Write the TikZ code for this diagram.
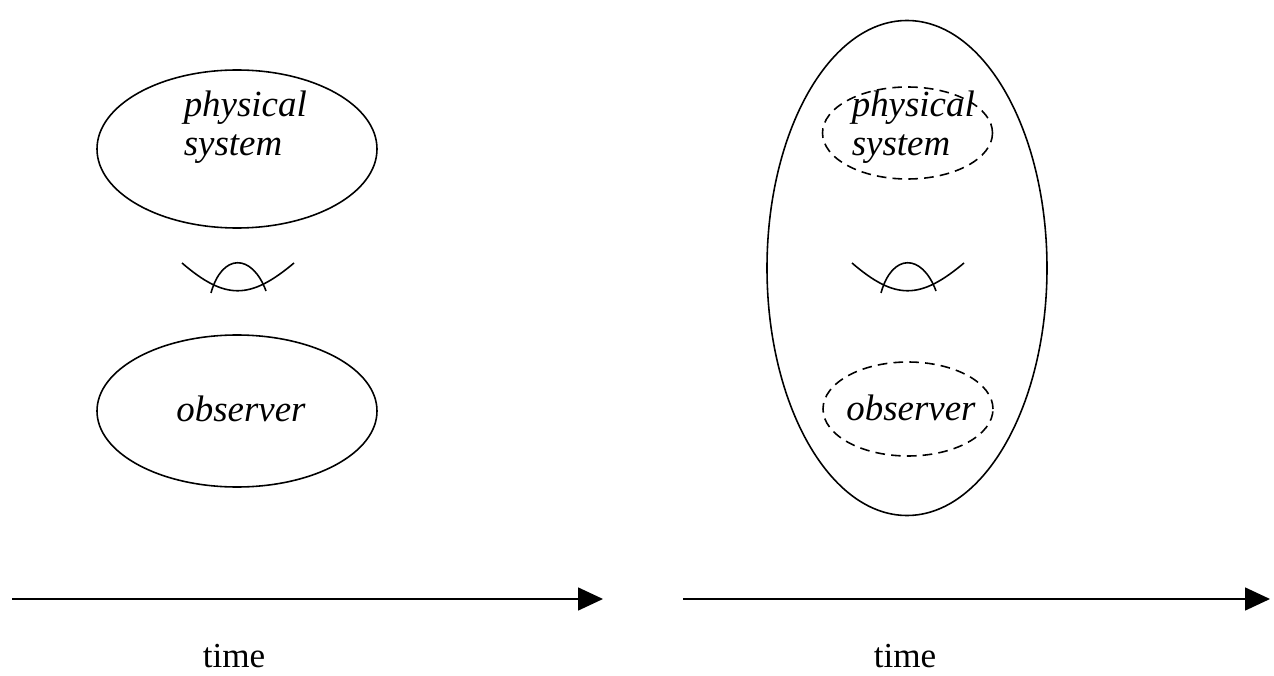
\documentclass[tikz,border=0pt]{standalone}
\usepackage{fontspec}
\setmainfont{Liberation Serif}
\usetikzlibrary{arrows.meta}

\tikzset{
  coupling/.pic={
    \draw (-1.1,0.28) .. controls (-0.24,-0.46) and (0.26,-0.46) .. (1.14,0.28);
    \draw (-0.52,-0.32) .. controls (-0.3,0.48) and (0.3,0.48) .. (0.58,-0.28);
  }
}

\begin{document}
\begin{tikzpicture}[line width=0.9pt,
    itlabel/.style={inner sep=0pt, font=\fontsize{21}{22.1}\selectfont\itshape},
    timelabel/.style={inner sep=0pt, anchor=base, font=\fontsize{20}{24}\selectfont},
    subsystem/.style={dash pattern=on 5.5pt off 3.5pt},
    timeline/.style={-{Triangle[length=0.5cm,width=0.46cm]}}]
    \useasboundingbox (0,0) rectangle (25.48,13.5);

    % Left: system and observer kept apart
    \draw (4.74,10.52) ellipse (2.8 and 1.58);
    \node[itlabel, anchor=west, align=left] (sysL) at (3.66,10.96) {physical\\system};
    \draw (4.74,5.28) ellipse (2.8 and 1.52);
    \node[itlabel, anchor=base] (obsL) at (4.82,5.08) {observer};
    \pic at (4.74,7.96) {coupling};

    % Right: both inside one larger system
    \draw (18.14,8.14) ellipse (2.8 and 4.95);
    \draw[subsystem] (18.15,10.84) ellipse (1.7 and 0.92);
    \node[itlabel, anchor=west, align=left] (sysR) at (17.02,10.96) {physical\\system};
    \draw[subsystem] (18.16,5.32) ellipse (1.7 and 0.94);
    \node[itlabel, anchor=base] (obsR) at (18.22,5.1) {observer};
    \pic at (18.14,7.96) {coupling};

    % Time axes
    \coordinate (tL0) at (0.24,1.52);
    \coordinate (tL1) at (12.06,1.52);
    \coordinate (tR0) at (13.66,1.52);
    \coordinate (tR1) at (25.4,1.52);
    \draw[timeline] (tL0) -- (tL1);
    \draw[timeline] (tR0) -- (tR1);
    \node[timelabel] (timeL) at (4.68,0.16) {time};
    \node[timelabel] (timeR) at (18.1,0.16) {time};
\end{tikzpicture}
\end{document}
